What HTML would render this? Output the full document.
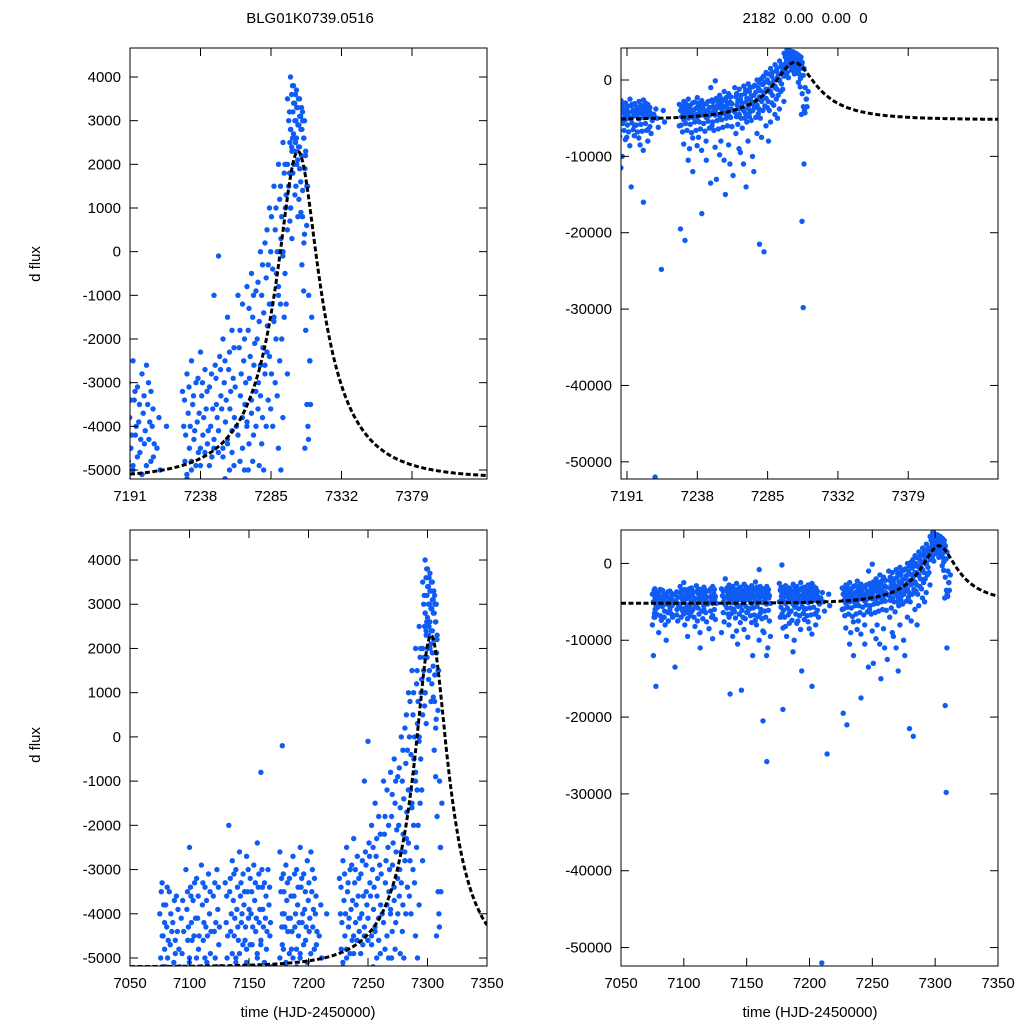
<!DOCTYPE html>
<html><head><meta charset="utf-8"><style>
html,body{margin:0;padding:0;background:#fff;width:1024px;height:1024px;overflow:hidden}
svg{display:block}
text{font-family:"Liberation Sans",sans-serif;fill:#000}
</style></head><body>
<svg id="c" width="1024" height="1024" xmlns="http://www.w3.org/2000/svg">
<text x="310" y="23" font-size="15" text-anchor="middle">BLG01K0739.0516</text>
<text x="805" y="23" font-size="15" text-anchor="middle" xml:space="preserve">2182  0.00  0.00  0</text>
<text transform="translate(40,264) rotate(-90)" font-size="15" text-anchor="middle">d flux</text>
<text transform="translate(40,745) rotate(-90)" font-size="15" text-anchor="middle">d flux</text>
<text x="308" y="1017" font-size="15" text-anchor="middle">time (HJD-2450000)</text>
<text x="810" y="1017" font-size="15" text-anchor="middle">time (HJD-2450000)</text>
</svg>
<script>
// observation data: time groups with flux values
const groupTimes = [7075,7077,7080,7083,7086,7089,7093,7097,7100,7103,7106,7110,7113,7116,7120,7123,7130,7133,7136,7139,7142,7145,7148,7151,7154,7157,7160,7163,7166,7176,7178,7181,7184,7187,7190,7193,7196,7199,7202,7205,7209,7214,7226,7229,7232,7235,7238,7241,7244,7247,7250,7253,7256,7259,7263,7266,7269,7272,7275,7278,7281,7284,7287,7290,7293,7296,7298,7300,7302,7304,7306,7308,7310];
const groupFluxes = [
[-4000,-5000,-6500,-8000,-12000],[-3300,-4500,-5800,-7000,-16000],[-3800,-4300,-5000,-9000],[-3500,-4700,-6200],[-4200,-5100,-7500,-10000],[-3600,-4400,-5500],[-4100,-4900,-6000,-13500],[-3000,-3900,-4600,-5300,-7000],[-2500,-3400,-4200,-5000,-8000],[-3700,-4500,-5600,-9500],[-3200,-4100,-4800,-6300],[-2900,-3800,-4600,-5200,-7500],[-3400,-4300,-5100,-11000],[-3100,-4000,-4900,-6000],[-3600,-4400,-5000,-8500],[-3000,-3900,-4700,-6800],[-3300,-4200,-5000,-9000],[-2000,-3500,-4400,-5300],[-2800,-3700,-4500,-7000,-17000],[-3000,-3900,-4300,-5100,-6000],[-2600,-3600,-4200,-4900,-10500],[-3100,-3800,-4600,-5500,-16500],[-2700,-3500,-4100,-4800,-7200],[-3200,-4000,-4700,-6200],[-2900,-3700,-4400,-5200,-12000],[-2400,-3400,-4200,-5000,-8000],[-800,-3000,-3900,-4600,-6500],[-3300,-4100,-4800,-20500,-9000],[-3000,-3800,-4500,-25800,-11000],[-2600,-3500,-4300,-5000,-7000],[-200,-3100,-4000,-4700,-19000],[-2900,-3700,-4400,-5100,-9500],[-3200,-4100,-4800,-6400],[-2700,-3600,-4300,-5000,-10000],[-3000,-3800,-4500,-5200,-7500],[-2500,-3400,-4200,-4900,-14000],[-3100,-3900,-4600,-6000],[-2800,-3700,-4400,-5100,-8500],[-2600,-3500,-4300,-16000],[-3200,-4000,-4700,-6500],[-4500,-52000],[-24800],[-3200,-4000,-4800,-6000,-19500],[-2800,-3700,-4500,-5200,-21000],[-2500,-3500,-4300,-5000,-9000],[-3000,-3900,-4600,-12000],[-2300,-3300,-4200,-4900,-7500],[-2700,-3600,-4400,-17500],[-3100,-4000,-4700,-10500],[-1000,-2600,-3500,-4300,-6000],[-100,-2400,-3300,-4100,-13000],[-2000,-3000,-3900,-4700,-8000],[-1500,-2700,-3600,-4400,-15000],[-1800,-2900,-3800,-4600,-11000],[-1000,-2200,-3300,-4200,-7000],[-1200,-2500,-3500,-4500,-9500],[-800,-1800,-2900,-3900,-5000,-14000],[-500,-1500,-2600,-3700,-4800],[-900,-2000,-3000,-4000,-12000],[0,-1000,-2200,-3300,-4400,-21500],[200,-600,-1700,-2800,-4000,-22500],[1000,0,-1200,-2400,-3600,-8000],[1500,500,-500,-1500,-3000],[2000,1200,300,-800,-2500,-5000],[2500,1800,1000,0,-1500],[3500,3000,2500,2000,1500,700],[4000,3600,3200,2800,2400,1800,1000],[3800,3400,3000,2700,2300,1500],[3700,3300,2900,2600,2100,1200],[3500,3100,2800,2400,1600,-300],[3200,2600,1900,800,-900,-4500],[2200,600,-4000,-18500,-29800],[-4300,-2500]];
// additional denser observations (same time groups)
const groupFluxes2 = [
[-3500,-4500,-5500,-7000,-6000,-5200],[-3800,-4200,-5200,-6600,-4800,-5600],[-3400,-4600,-5600,-6800,-7400,-5300],[-4000,-4400,-5300,-7000,-8000],[-3700,-4600,-5600,-6400,-4900,-6000],[-3900,-4800,-5200,-6600,-7000],[-3700,-4400,-5500,-6700,-7500],[-3500,-4300,-5100,-5900,-6200,-6600],[-3600,-4600,-5400,-5800,-6400,-7200],[-3300,-4100,-5000,-6000,-6800],[-3600,-4500,-5400,-6000,-7000,-8200],[-3300,-4200,-5000,-5800,-6600,-9000],[-3700,-4500,-5500,-6200,-7200],[-3500,-4400,-5300,-6400,-7600],[-3300,-4200,-5200,-6200,-7000,-9800],[-3400,-4300,-5200,-6000,-7300],[-3600,-4500,-5400,-6400,-7600],[-3200,-4000,-4900,-5800,-6600,-8000],[-3100,-4100,-5000,-5800,-6500,-9500],[-3400,-4600,-5400,-6300,-7100,-8800],[-3300,-4000,-4700,-5600,-6600,-7700],[-3500,-4300,-5100,-6100,-7000,-8600],[-3000,-3900,-4700,-5600,-6400,-9600],[-3500,-4300,-5200,-5900,-6800,-7700],[-3300,-4100,-4900,-5800,-6700,-7400],[-3100,-3900,-4700,-5600,-6900,-10000],[-3400,-4300,-5100,-6000,-7200,-8800],[-3600,-4400,-5300,-6200,-7000,-12000],[-3400,-4200,-5200,-6100,-7500,-9500],[-3200,-4000,-4800,-5700,-6600,-8400],[-3500,-4300,-5200,-6100,-7000,-8200],[-3300,-4100,-4900,-5800,-6700,-7800],[-3600,-4400,-5300,-6200,-7400,-11500],[-3100,-4000,-4800,-5700,-6600,-7800],[-3400,-4200,-5000,-5900,-6800,-8600],[-3200,-4000,-4700,-5600,-6500,-7300],[-3500,-4300,-5100,-5900,-6800,-7600],[-3300,-4100,-4900,-5800,-6700,-9200],[-3000,-3900,-4800,-5700,-6600,-8000],[-3600,-4400,-5300,-6100,-7000],[-3800,-5000,-6200],[-4000,-5500],[-3400,-4200,-5100,-5900,-6800,-8400],[-3100,-4000,-4800,-5700,-6600,-10500],[-3300,-4100,-4900,-5800,-6900,-7600],[-2900,-3700,-4500,-5500,-6600,-8600],[-3000,-3800,-4600,-5500,-6400,-9200],[-3200,-4100,-4900,-5700,-6700,-8000],[-2800,-3600,-4500,-5400,-6300,-13500],[-2900,-3800,-4600,-5500,-6600,-8800],[-2700,-3600,-4500,-5300,-6400,-9800],[-2500,-3400,-4300,-5200,-6200,-10500],[-2300,-3200,-4100,-5000,-6000,-8500],[-2200,-3100,-4000,-4900,-6100,-12500],[-1800,-2800,-3800,-4800,-5800,-9000],[-2000,-3000,-4000,-5000,-6300,-11000],[-1300,-2400,-3400,-4400,-5500,-8000],[-1000,-2100,-3200,-4200,-5300,-10000],[-700,-1600,-2600,-3600,-4900,-7000],[-300,-1400,-2600,-3800,-5000,-7500],[500,-300,-1200,-2300,-3400,-6000],[800,-400,-1600,-2800,-4000,-5500],[1000,0,-1000,-2000,-3300,-4500],[1500,800,-100,-1200,-2000,-3800],[2000,1300,500,-500,-1200,-2800],[3200,2800,2300,1800,1000,300],[3800,3400,3000,2600,2000,1300],[3600,3300,2900,2500,2000,800],[3500,3100,2800,2400,1900,900],[3300,3000,2600,2200,1400,200],[3000,2300,1500,400,-1800,-3500],[1500,-1000,-2500,-11000],[-3500,-1500]];
// model parameters (Paczynski)
const modelT0 = [7303];
const modelU0 = [0.3];
const modelTE = [46.7];
const modelBase = [-5200];
const modelFs = [3067];
// tick labels
const xTicksTop = [7191,7238,7285,7332,7379];
const xTicksBottom = [7050,7100,7150,7200,7250,7300,7350];
const yTicksLeft = [4000,3000,2000,1000,0,-1000,-2000,-3000,-4000,-5000];
const yTicksRight = [0,-10000,-20000,-30000,-40000,-50000];

const NS='http://www.w3.org/2000/svg';
const svg=document.getElementById('c');
function mk(tag,attrs,parent){const e=document.createElementNS(NS,tag);for(const k in attrs)e.setAttribute(k,attrs[k]);(parent||svg).appendChild(e);return e;}
function model(t){const tau=(t-modelT0[0])/modelTE[0];const u=Math.sqrt(modelU0[0]*modelU0[0]+tau*tau);const A=(u*u+2)/(u*Math.sqrt(u*u+4));return modelBase[0]+modelFs[0]*(A-1);}

const panels=[
 {id:'top-left',x0:130,x1:487,y0:48,y1:479,t0:7191,t1:7429,f0:-5206,f1:4664,xt:xTicksTop,yt:yTicksLeft},
 {id:'top-right',x0:621,x1:998,y0:48,y1:479,t0:7187,t1:7439,f0:-52250,f1:4190,xt:xTicksTop,yt:yTicksRight},
 {id:'bottom-left',x0:130,x1:487,y0:530,y1:966,t0:7050,t1:7350,f0:-5181,f1:4679,xt:xTicksBottom,yt:yTicksLeft},
 {id:'bottom-right',x0:621,x1:998,y0:530,y1:966,t0:7050,t1:7350,f0:-52400,f1:4350,xt:xTicksBottom,yt:yTicksRight}
];
panels.forEach(p=>{
 const sx=t=>p.x0+(t-p.t0)/(p.t1-p.t0)*(p.x1-p.x0);
 const sy=f=>p.y1-(f-p.f0)/(p.f1-p.f0)*(p.y1-p.y0);
 const g=mk('g',{});
 
 
 const cp=mk('clipPath',{id:'cp-'+p.id},g);
 mk('rect',{x:p.x0,y:p.y0,width:p.x1-p.x0,height:p.y1-p.y0},cp);
 const pts=mk('g',{'clip-path':'url(#cp-'+p.id+')',fill:'#0f5cf5'},g);
 
 
 [groupFluxes,groupFluxes2].forEach((set,si)=>{
  groupTimes.forEach((t,i)=>{set[i].forEach((f,j)=>{
   const c=mk('circle',{cx:sx(t+(j%3)*0.8+si*1.3).toFixed(1),cy:sy(f).toFixed(1),r:2.7},pts);
   
   
  });});
 });
 let d='';for(let t=p.t0;t<=p.t1;t+=1){d+=(d?'L':'M')+sx(t).toFixed(1)+','+sy(model(t)).toFixed(1);}
 const ln=mk('path',{d:d,fill:'none',stroke:'#000','stroke-width':3,'stroke-dasharray':'5,2.5','clip-path':'url(#cp-'+p.id+')'},g);
 
 
 const fr=mk('rect',{x:p.x0,y:p.y0,width:p.x1-p.x0,height:p.y1-p.y0,fill:'none',stroke:'#000','stroke-width':1},g);
 
 
 p.xt.forEach(v=>{const x=sx(v);
   mk('line',{x1:x,x2:x,y1:p.y1,y2:p.y1-8,stroke:'#000'},g);
   mk('line',{x1:x,x2:x,y1:p.y0,y2:p.y0+8,stroke:'#000'},g);
   const tx=mk('text',{x:x,y:p.y1+22,'font-size':15,'text-anchor':'middle'},g);tx.textContent=v;
   
   
 });
 p.yt.forEach(v=>{const y=sy(v);
   mk('line',{x1:p.x0,x2:p.x0+8,y1:y,y2:y,stroke:'#000'},g);
   mk('line',{x1:p.x1,x2:p.x1-8,y1:y,y2:y,stroke:'#000'},g);
   const tx=mk('text',{x:p.x0-9,y:y+5,'font-size':15,'text-anchor':'end'},g);tx.textContent=v;
   
   
 });
});
</script>
</body></html>
